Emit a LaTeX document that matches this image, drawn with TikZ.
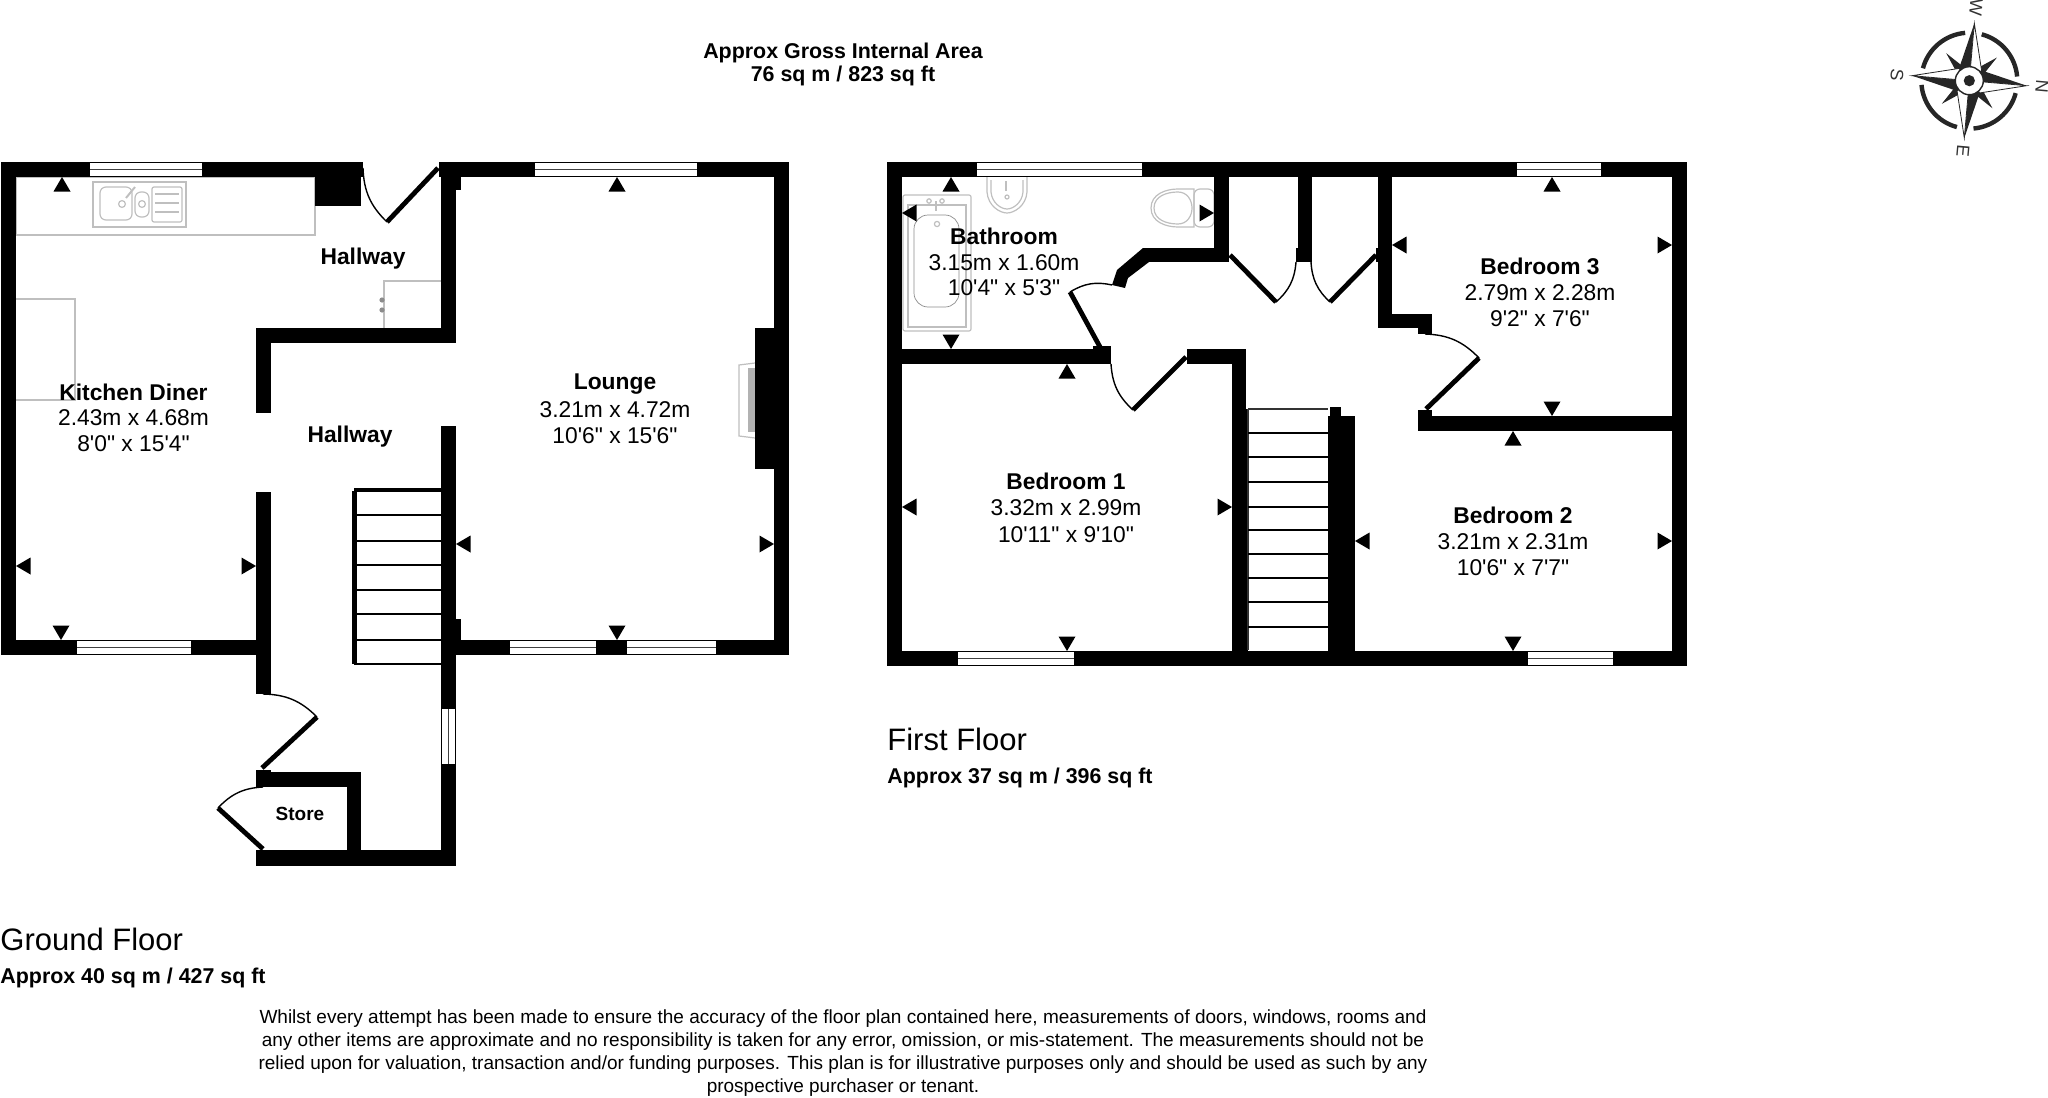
\documentclass[tikz,border=0pt]{standalone}
\usepackage{fontspec}
\setmainfont{Liberation Sans}[Ligatures=TeXOff]
\usepackage{tikz}

\tikzset{
  wall/.style={fill=black},
  fixture/.style={draw=black!25,line width=.6pt,fill=none},
  fixturethin/.style={draw=black!45,line width=.35pt,fill=none},
  doorleaf/.style={draw=black,line width=2.4pt},
  doorarc/.style={draw=black,line width=.7pt},
  roomname/.style={font=\fontsize{11.4}{13}\selectfont\bfseries,inner sep=0pt},
  roomsize/.style={font=\fontsize{11.4}{13}\selectfont,inner sep=0pt},
  floorname/.style={font=\fontsize{15.5}{18}\selectfont,inner sep=0pt,anchor=west},
  floorarea/.style={font=\fontsize{10.7}{13}\selectfont\bfseries,inner sep=0pt,anchor=west},
  footnote/.style={font=\fontsize{9.5}{12}\selectfont,inner sep=0pt},
  compassletter/.style={font=\fontsize{9}{11}\selectfont,text=black!80,inner sep=0pt}
}

\begin{document}
\begin{tikzpicture}[x=.5pt,y=-.5pt]
  \useasboundingbox (0,0) rectangle (2048,1097);

  % fixtures below the walls
  \draw[fixture] (16,177) rectangle (315,235); % worktop
  \draw[fixture] (16,299) -- (75,299) -- (75,400) -- (16,400);
  \draw[fixture] (441,281) -- (384,281) -- (384,328);
  \fill[black!45] (382,300) circle (2.6);
  \fill[black!45] (382,310) circle (2.6);
  \draw[fixture] (93,182) rectangle (186,227); % sink
  \draw[fixture,rounded corners=3pt] (100,187) rectangle (132,220);
  \draw[fixture,rounded corners=3pt] (135,192) rectangle (149,217);
  \draw[fixture,rounded corners=1pt] (152,187) rectangle (182,222);
  \foreach \y in {194,203,212}
      \draw[fixture] (155,\y) -- (179,\y);
  \draw[fixture] (122,204) circle (3.4);
  \draw[fixture] (142,204) circle (3.4);
  \draw[fixture,line width=1pt] (126,198) -- (135,187);

  \draw[fixture,rounded corners=1pt] (903,195) rectangle (971,331); % bath
  \draw[fixture] (908,205) rectangle (966,327);
  \draw[fixturethin,rounded corners=7pt] (914,215) rectangle (959,307);
  \draw[fixture] (936,201) -- (936,211);
  \draw[fixture] (929,201) circle (2.2);
  \draw[fixture] (942,201) circle (2.2);
  \draw[fixture] (937,224) circle (2.6);

  \draw[fixture] (987,177) -- (987,192) .. controls (988,206) and (1000,213) .. (1007,213)
      .. controls (1014,213) and (1026,206) .. (1027,192) -- (1027,177); % basin
  \draw[fixture] (991,180) -- (991,192) .. controls (992,203) and (1001,209) .. (1007,209)
      .. controls (1013,209) and (1022,203) .. (1023,192) -- (1023,180);
  \draw[fixture] (1006,181) -- (1006,191);
  \draw[fixture] (1007,197) circle (2);
  \draw[fixture] (1151,208) .. controls (1151,194) and (1166,189) .. (1178,189) -- (1194,189) -- (1194,227) -- (1178,227)
      .. controls (1166,227) and (1151,222) .. (1151,208); % toilet
  \draw[fixture] (1154,208) .. controls (1154,196) and (1167,192) .. (1178,192) .. controls (1187,192) and (1192,200) .. (1192,208)
      .. controls (1192,216) and (1187,224) .. (1178,224) .. controls (1167,224) and (1154,220) .. (1154,208);
  \draw[fixture,rounded corners=3pt] (1194,189) rectangle (1214,227);

  \draw[fixture] (755,363) -- (739,365) -- (739,436) -- (755,438); % hearth
  \fill[black!30] (748,368) rectangle (755,432);

  % walls, ground floor
  \foreach \xa/\ya/\xb/\yb in {
      1/162/363/177, 1/162/16/655, 1/640/256/655, 315/177/361/206,
      439/162/789/177, 441/162/456/343, 456/177/461/190, 256/328/456/343,
      256/328/271/413, 256/492/271/694, 441/426/456/866, 456/619/461/640,
      456/640/789/655, 774/162/789/655, 755/328/774/469,
      256/770/271/787, 256/772/361/787, 347/772/361/866, 256/850/456/866}
      \fill[wall] (\xa,\ya) rectangle (\xb,\yb);

  % walls, first floor
  \foreach \xa/\ya/\xb/\yb in {
      887/162/1687/177, 887/162/902/666, 1672/162/1687/666, 887/651/1687/666,
      902/349/1111/364, 1093/346/1111/349, 1187/349/1246/364, 1232/349/1246/409, 1232/409/1248/651,
      1214/177/1229/262, 1143/248/1229/262, 1298/177/1312/262, 1296/248/1298/262, 1378/177/1392/328, 1376/248/1378/262,
      1378/314/1432/328, 1418/328/1432/334, 1418/410/1432/416, 1418/416/1687/431,
      1328/416/1355/651, 1330/407/1341/416}
      \fill[wall] (\xa,\ya) rectangle (\xb,\yb);
  \fill[wall] (1143,248) -- (1149,262) -- (1128,278) -- (1125,288) -- (1112,285) -- (1117,270) -- cycle;

  % stairs
  \fill[wall] (352,491) rectangle (357,664);
  \draw[line width=2.2pt] (354,490) -- (441,490);
  \draw[line width=.8pt] (354,664) -- (441,664);
  \foreach \y in {515,541,565,590,614,640}
      \draw[line width=.8pt] (357,\y) -- (441,\y);
  \draw[line width=.8pt,black!80] (1248,409) -- (1328,409);
  \draw[line width=.8pt,black!80] (1248,409) -- (1248,650);
  \foreach \y in {433,457,482,507,530,554,578,602,627}
      \draw[line width=.8pt] (1248,\y) -- (1328,\y);

  % windows
  \foreach \xa/\xb/\ya/\yb in {90/202/163/176, 535/697/163/176, 510/596/641/654, 627/716/641/654, 77/191/641/654,
      977/1142/163/176, 1517/1601/163/176, 1528/1613/652/665, 958/1074/652/665}
  {
      \fill[white] (\xa,\ya) rectangle (\xb,\yb);
      \draw[line width=.7pt,black!75] (\xa,{(\ya+\yb)/2}) -- (\xb,{(\ya+\yb)/2});
  }
  \fill[white] (442,709) rectangle (455,764);
  \draw[line width=.7pt,black!75] (448.5,709) -- (448.5,764);

  % doors
  \foreach \ax/\ay/\bx/\by/\cx/\cy/\b in {
      363/168/387/222/438/168/-22, 263/694/317/717/262/768/22, 263/787/218/808/263/849/-22,
      1112/285/1070/292/1100/347/-22, 1111/364/1133/410/1186/357/-22,
      1296/262/1276/302/1230/255/22, 1311/262/1330/302/1376/255/-22,
      1425/334/1479/358/1426/409/22}
  {
      \draw[doorarc] (\ax,\ay) to[bend left=\b] (\bx,\by);
      \draw[doorleaf] (\bx,\by) -- (\cx,\cy);
  }

  % measuring marks
  \foreach \x/\y/\a in {
      62/177/-90, 16/566/0, 256/566/180, 61/640/90,
      617/177/-90, 617/640/90, 456/544/0, 774/544/180,
      951/177/-90, 951/349/90, 902/213/0, 1214/213/180,
      1067/364/-90, 1067/651/90, 902/507/0, 1232/507/180,
      1552/177/-90, 1552/416/90, 1392/245/0, 1672/245/180,
      1513/431/-90, 1513/651/90, 1355/541/0, 1672/541/180}
      \fill[shift={(\x,\y)},rotate=\a] (0,0) -- (14.5,-8.5) -- (14.5,8.5) -- cycle;

  % compass
  \begin{scope}[shift={(1969.3,80.7)}]
      \foreach \a in {50,140,230,320}
          \fill[black!85] (\a:36) -- (\a-25:12) -- (\a+25:12) -- cycle;
      \foreach \a in {5,95,185,275}
      {
          \fill[black!85] (\a:57.5) -- (\a-45:16) -- (0,0) -- cycle;
          \draw[black!85,fill=white,line width=.4pt] (\a:57.5) -- (\a+45:16) -- (0,0) -- cycle;
          \draw[black!85,line width=2.2pt] (\a+10:48) arc[start angle=\a+10,end angle=\a+80,radius=48];
      }
      \draw[black!85,fill=white,line width=.7pt] (0,0) circle (14);
      \fill[black!85] (0,0) circle (5.6);
  \end{scope}
  \node[compassletter,rotate=-95] (compassN) at (2042,87) {N};
  \node[compassletter,rotate=-95] (compassS) at (1897,75) {S};
  \node[compassletter,rotate=-95] (compassW) at (1976,8) {W};
  \node[compassletter,rotate=-95] (compassE) at (1963,151) {E};

  % rooms
  \node[roomname] (kitchen) at (133.5,392) {Kitchen Diner};
  \node[roomsize] (kitchenm) at (133.5,418) {2.43m x 4.68m};
  \node[roomsize] (kitchenft) at (133.5,444) {8'0" x 15'4"};
  \node[roomname] (hallone) at (363,259) {Hallway};
  \node[roomname] (halltwo) at (350,437) {Hallway};
  \node[roomname,font=\fontsize{9.5}{11}\selectfont\bfseries] (store) at (300,814) {Store};
  \node[roomname] (lounge) at (615,384) {Lounge};
  \node[roomsize] (loungem) at (615,409.6) {3.21m x 4.72m};
  \node[roomsize] (loungeft) at (615,435.7) {10'6" x 15'6"};
  \node[roomname] (bath) at (1004,236) {Bathroom};
  \node[roomsize] (bathm) at (1004,263) {3.15m x 1.60m};
  \node[roomsize] (bathft) at (1004,288) {10'4" x 5'3"};
  \node[roomname] (bedone) at (1066,481) {Bedroom 1};
  \node[roomsize] (bedonem) at (1066,508) {3.32m x 2.99m};
  \node[roomsize] (bedoneft) at (1066,535) {10'11" x 9'10"};
  \node[roomname] (bedtwo) at (1513,515) {Bedroom 2};
  \node[roomsize] (bedtwom) at (1513,542) {3.21m x 2.31m};
  \node[roomsize] (bedtwoft) at (1513,568) {10'6" x 7'7"};
  \node[roomname] (bedthree) at (1540,266) {Bedroom 3};
  \node[roomsize] (bedthreem) at (1540,293) {2.79m x 2.28m};
  \node[roomsize] (bedthreeft) at (1540,319) {9'2" x 7'6"};

  % captions
  \node[roomname,font=\fontsize{10.7}{13}\selectfont\bfseries] (gross) at (843,53) {Approx Gross Internal Area};
  \node[roomname,font=\fontsize{10.7}{13}\selectfont\bfseries] (grossarea) at (843,76) {76 sq m / 823 sq ft};
  \node[floorname] (first) at (887,739) {First Floor};
  \node[floorarea] (firstarea) at (887,778) {Approx 37 sq m / 396 sq ft};
  \node[floorname] (ground) at (0,939) {Ground Floor};
  \node[floorarea] (groundarea) at (0,978) {Approx 40 sq m / 427 sq ft};

  \node[footnote] (lineone) at (843,1019) {Whilst every attempt has been made to ensure the accuracy of the floor plan contained here, measurements of doors, windows, rooms and};
  \node[footnote] (linetwo) at (843,1042) {any other items are approximate and no responsibility is taken for any error, omission, or mis-statement. The measurements should not be};
  \node[footnote] (linethree) at (843,1065) {relied upon for valuation, transaction and/or funding purposes. This plan is for illustrative purposes only and should be used as such by any};
  \node[footnote] (linefour) at (843,1088) {prospective purchaser or tenant.};
\end{tikzpicture}
\end{document}
